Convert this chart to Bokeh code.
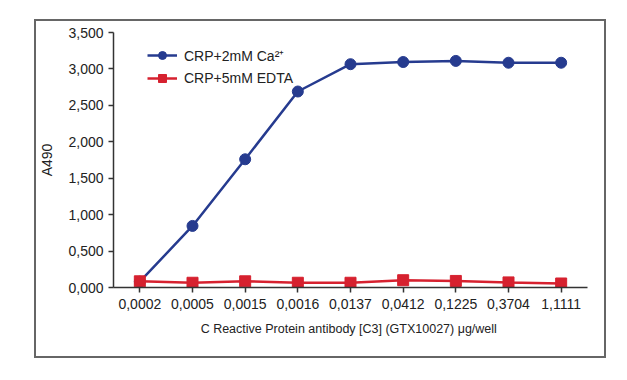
from bokeh.plotting import figure
from bokeh.models import FactorRange, Range1d, FixedTicker, Legend, LegendItem
from bokeh.embed import file_html
from bokeh.resources import INLINE

concentrations = ["0,0002", "0,0005", "0,0015", "0,0016", "0,0137", "0,0412", "0,1225", "0,3704", "1,1111"]
ca_values = [0.08, 0.845, 1.76, 2.69, 3.065, 3.095, 3.11, 3.085, 3.085]
edta_values = [0.085, 0.065, 0.085, 0.065, 0.065, 0.10, 0.09, 0.07, 0.055]
y_ticks = [0.0, 0.5, 1.0, 1.5, 2.0, 2.5, 3.0, 3.5]
y_labels = ["0,000", "0,500", "1,000", "1,500", "2,000", "2,500", "3,000", "3,500"]

BLUE = "#263b8f"
RED = "#d6212f"
FONT = "Liberation Sans"

p = figure(x_range=FactorRange(*concentrations, range_padding=0), y_range=Range1d(0, 3.5),
           width=572, height=339, output_backend="svg", toolbar_location=None,
           min_border_left=73, min_border_right=21, min_border_top=11, min_border_bottom=73)
p.styles = {"margin-left": "34px", "margin-top": "19px", "border": "2px solid #666666"}
p.outline_line_color = None
p.xgrid.visible = False
p.ygrid.visible = False

l1 = p.line(concentrations, ca_values, line_color=BLUE, line_width=2.5)
m1 = p.scatter(concentrations, ca_values, marker="circle", size=11, fill_color=BLUE, line_color=BLUE)
l2 = p.line(concentrations, edta_values, line_color=RED, line_width=2.5)
m2 = p.scatter(concentrations, edta_values, marker="square", size=11, fill_color=RED, line_color=RED)

legend = Legend(items=[LegendItem(label="CRP+2mM Ca\u00b2\u207a", renderers=[l1, m1]),
                       LegendItem(label="CRP+5mM EDTA", renderers=[l2, m2])],
                location=(34, 199), padding=0, margin=0, spacing=3,
                glyph_width=30, glyph_height=20, label_standoff=7,
                label_text_font=FONT, label_text_font_size="14px", label_text_color="#222222",
                border_line_alpha=0, background_fill_alpha=0)
p.add_layout(legend, "center")

for ax in (p.xaxis[0], p.yaxis[0]):
    ax.axis_line_color = "#333333"
    ax.axis_line_width = 1.5
    ax.major_tick_line_color = "#333333"
    ax.major_tick_line_width = 1.5
    ax.major_tick_in = 0
    ax.major_tick_out = 5
    ax.minor_tick_line_color = None
    ax.major_label_text_font = FONT
    ax.major_label_text_font_size = "14px"
    ax.major_label_text_color = "#222222"
    ax.axis_label_text_font = FONT
    ax.axis_label_text_font_style = "normal"
    ax.axis_label_text_color = "#222222"

p.yaxis[0].ticker = FixedTicker(ticks=y_ticks)
p.yaxis[0].major_label_overrides = dict(zip(y_ticks, y_labels))
p.yaxis[0].axis_label = "A490"
p.yaxis[0].axis_label_text_font_size = "14px"
p.yaxis[0].axis_label_standoff = 10
p.yaxis[0].major_label_standoff = 5

p.xaxis[0].axis_label = "C Reactive Protein antibody [C3] (GTX10027)  \u03bcg/well"
p.xaxis[0].axis_label_text_font_size = "12.5px"
p.xaxis[0].axis_label_standoff = 10
p.xaxis[0].major_label_standoff = 6

open("out.html", "w").write(file_html(p, INLINE))
